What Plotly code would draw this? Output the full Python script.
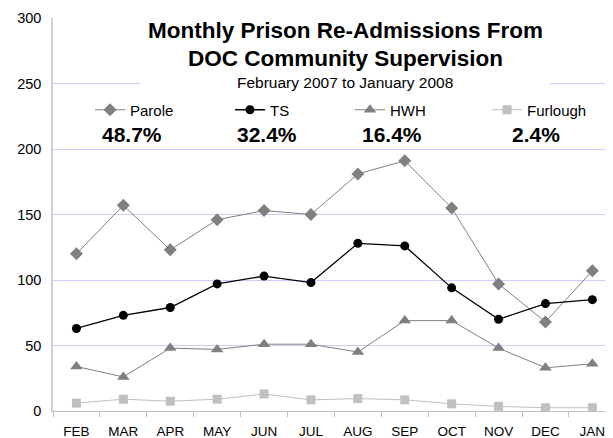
import plotly.graph_objects as go

months = ["FEB", "MAR", "APR", "MAY", "JUN", "JUL", "AUG", "SEP", "OCT", "NOV", "DEC", "JAN"]
parole = [120, 157, 123, 146, 153, 150, 181, 191, 155, 97, 68, 107]
ts = [63, 73, 79, 97, 103, 98, 128, 126, 94, 70, 82, 85]
hwh = [34, 26, 48, 47, 51, 51, 45, 69, 69, 48, 33, 36]
furlough = [6, 9, 7.5, 9, 13, 8.5, 9.5, 8.5, 5.5, 3.5, 2.5, 2.5]

series_names = ["Parole", "TS", "HWH", "Furlough"]
shares = ["48.7%", "32.4%", "16.4%", "2.4%"]
title_lines = ["Monthly Prison Re-Admissions From", "DOC Community Supervision"]
subtitle = "February 2007 to January 2008"

FONT = "Arial, Liberation Sans, sans-serif"

styles = [
    dict(color="#808080", symbol="diamond", size=10, width=1),
    dict(color="#000000", symbol="circle", size=9, width=1.3),
    dict(color="#808080", symbol="triangle-up", size=11, width=1),
    dict(color="#c0c0c0", symbol="square", size=9, width=1),
]
data = [parole, ts, hwh, furlough]
legend_ids = ["legend", "legend2", "legend3", "legend4"]

fig = go.Figure()
for name, vals, st, lg in zip(series_names, data, styles, legend_ids):
    fig.add_trace(go.Scatter(
        x=months, y=vals, name=name, mode="lines+markers",
        line=dict(color=st["color"], width=st["width"]),
        marker=dict(color=st["color"], symbol=st["symbol"], size=st["size"],
                    line=dict(width=0)),
        legend=lg,
    ))

# page body has an 8px margin: the figure is drawn at (8, 8)
OFF = 8
W, H = 613 - OFF, 438 - OFF
ml, mr, mt, mb = 53 - OFF, 0, 18 - OFF, 27
PW, PH = W - ml - mr, H - mt - mb

def px_x(p):
    return (p - OFF - ml) / PW

def px_y(p):
    return 1 - (p - OFF - mt) / PH

annotations = []
annotations.append(dict(text="<b>" + title_lines[0] + "</b>", x=px_x(345), y=px_y(30),
                        xref="paper", yref="paper", showarrow=False,
                        font=dict(size=22.5, color="#000000", family=FONT),
                        xanchor="center", yanchor="middle"))
annotations.append(dict(text="<b>" + title_lines[1] + "</b>", x=px_x(345), y=px_y(58),
                        xref="paper", yref="paper", showarrow=False,
                        font=dict(size=22.5, color="#000000", family=FONT),
                        xanchor="center", yanchor="middle"))
annotations.append(dict(text=subtitle, x=px_x(345), y=px_y(83),
                        xref="paper", yref="paper", showarrow=False,
                        font=dict(size=15.5, color="#000000", family=FONT),
                        xanchor="center", yanchor="middle"))
share_x = [132, 267, 392, 536]
for s, xp in zip(shares, share_x):
    annotations.append(dict(text="<b>" + s + "</b>", x=px_x(xp), y=px_y(135),
                            xref="paper", yref="paper", showarrow=False,
                            font=dict(size=21, color="#000000", family=FONT),
                            xanchor="center", yanchor="middle"))

legend_marker_x = [108, 248, 368, 505]
legends = {}
for lg, mx in zip(legend_ids, legend_marker_x):
    legends[lg] = dict(x=px_x(mx - 18), y=px_y(110), xanchor="left", yanchor="middle",
                       orientation="h", bgcolor="rgba(0,0,0,0)",
                       font=dict(size=15, family=FONT, color="#000000"), itemwidth=30)

fig.update_layout(
    width=W, height=H,
    margin=dict(l=ml, r=mr, t=mt, b=mb),
    paper_bgcolor="white", plot_bgcolor="white",
    font=dict(family=FONT, size=13, color="#000000"),
    showlegend=True,
    annotations=annotations,
    shapes=[dict(type="rect", xref="x", yref="y", x0=1.36, x1=10.1, y0=215, y1=310,
                 fillcolor="white", line=dict(width=0), layer="between")],
    xaxis=dict(range=[-0.5, 11.44], showgrid=False, showline=True, linecolor="#c0c0c0",
               linewidth=1, ticks="outside", tickson="boundaries", ticklen=5,
               tickcolor="#c0c0c0", tickfont=dict(size=13.5), ticklabelstandoff=8,
               fixedrange=True),
    yaxis=dict(range=[0, 300], dtick=50, showgrid=True, gridcolor="#ccccff", gridwidth=1,
               showline=True, linecolor="#d0d0d0", linewidth=1.5, ticks="",
               tickfont=dict(size=14.5), zeroline=False, ticklabelstandoff=7,
               fixedrange=True),
    **legends,
)

fig.write_html("out.html")
